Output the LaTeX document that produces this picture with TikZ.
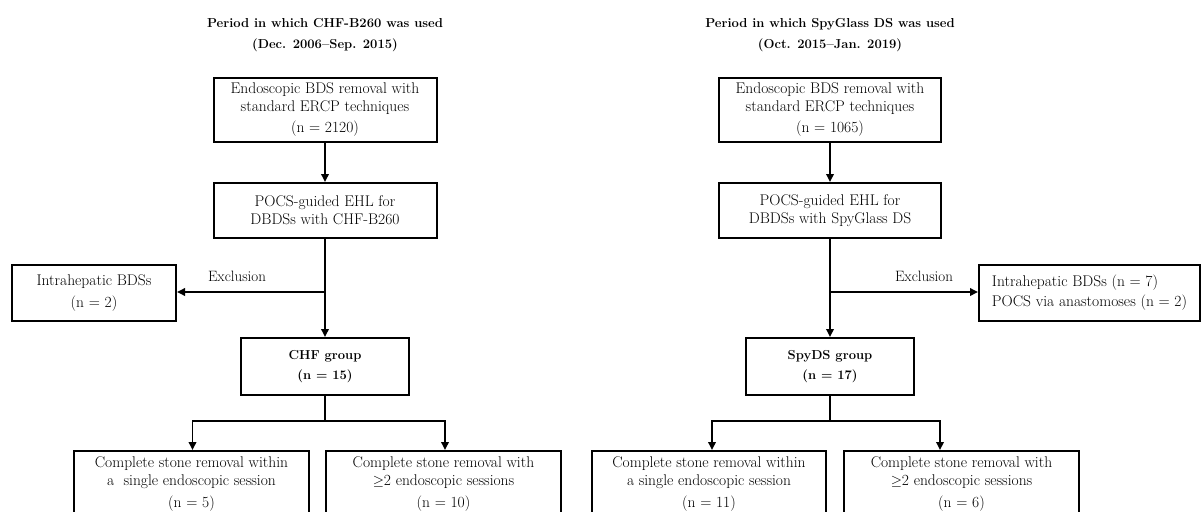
\documentclass[tikz,border=0pt]{standalone}
\usetikzlibrary{arrows.meta}
\begin{document}
\begin{tikzpicture}[x=1pt,y=-1pt,
  every node/.style={font=\fontsize{15.5}{18}\selectfont},
  box/.style={draw, line width=2pt, rectangle, align=center, inner sep=0pt},
  ttl/.style={font=\fontsize{13}{21}\selectfont\bfseries, align=center},
  grp/.style={font=\fontsize{13}{16}\selectfont\bfseries},
  lbl/.style={font=\fontsize{15}{16}\selectfont},
  conn/.style={line width=1.8pt},
  arr/.style={line width=1.8pt, -{Triangle[length=8pt,width=7.5pt]}}]
\useasboundingbox (0,0) rectangle (1201,511);
\clip (0,0) rectangle (1201,511);
\fill[white] (0,0) rectangle (1201,511);

% ---------- left column ----------
\node[ttl] (LT) at (325,35) {Period in which CHF-B260 was used\\(Dec. 2006--Sep. 2015)};
\node[box, minimum width=223pt, minimum height=64pt] (L1) at (325,110)
  {Endoscopic BDS removal with\\standard ERCP techniques\\[3pt](n = 2120)};
\node[box, minimum width=223pt, minimum height=55pt] (L2) at (325,210.5)
  {POCS-guided EHL for\\DBDSs with CHF-B260};
\node[box, minimum width=164pt, minimum height=56pt] (LX) at (94,293)
  {Intrahepatic BDSs\\[4pt](n = 2)};
\node[box, grp, minimum width=168pt, minimum height=57pt] (LG) at (325,366.5)
  {CHF group\\[4pt](n = 15)};
\node[box, minimum width=235pt, minimum height=66pt] (LA) at (191.5,484)
  {Complete stone removal within\\a\ \ single endoscopic session\\[4pt](n = 5)};
\node[box, minimum width=235pt, minimum height=66pt] (LB) at (443.5,484)
  {Complete stone removal with\\$\geq$2 endoscopic sessions\\[4pt](n = 10)};
\node[lbl] (LE) at (237,276) {Exclusion};
\coordinate (Lj) at (325,292);
\coordinate (Ls) at (325,421);

\draw[arr] (L1) -- (L2);
\draw[conn] (L2.south) -- (Lj);
\draw[arr] (Lj) -- (LX.east |- Lj);
\draw[arr] (Lj) -- (LG.north);
\draw[conn] (LG.south) -- (Ls);
\draw[arr] (Ls) -| ([xshift=1pt]LA.north);
\draw[arr] (Ls) -| ([xshift=1.5pt]LB.north);

% ---------- right column ----------
\node[ttl] (RT) at (830,35) {Period in which SpyGlass DS was used\\(Oct. 2015--Jan. 2019)};
\node[box, minimum width=222pt, minimum height=64pt] (R1) at (830,110)
  {Endoscopic BDS removal with\\standard ERCP techniques\\[3pt](n = 1065)};
\node[box, minimum width=222pt, minimum height=55pt] (R2) at (830,210.5)
  {POCS-guided EHL for\\DBDSs with SpyGlass DS};
\node[box, minimum width=221pt, minimum height=56pt, align=left] (RX) at (1089.5,293)
  {Intrahepatic BDSs (n = 7)\\[2pt]POCS via anastomoses (n = 2)};
\node[box, grp, minimum width=168pt, minimum height=57pt] (RG) at (830,366.5)
  {SpyDS group\\[4pt](n = 17)};
\node[box, minimum width=234pt, minimum height=66pt] (RA) at (709,484)
  {Complete stone removal within\\a single endoscopic session\\[4pt](n = 11)};
\node[box, minimum width=235pt, minimum height=66pt] (RB) at (961.5,484)
  {Complete stone removal with\\$\geq$2 endoscopic sessions\\[4pt](n = 6)};
\node[lbl] (RE) at (924,276) {Exclusion};
\coordinate (Rj) at (830,292);
\coordinate (Rs) at (830,421);

\draw[arr] (R1) -- (R2);
\draw[conn] (R2.south) -- (Rj);
\draw[arr] (Rj) -- (RX.west |- Rj);
\draw[arr] (Rj) -- (RG.north);
\draw[conn] (RG.south) -- (Rs);
\draw[arr] (Rs) -| ([xshift=3pt]RA.north);
\draw[arr] (Rs) -| ([xshift=-21.5pt]RB.north);
\end{tikzpicture}
\end{document}
